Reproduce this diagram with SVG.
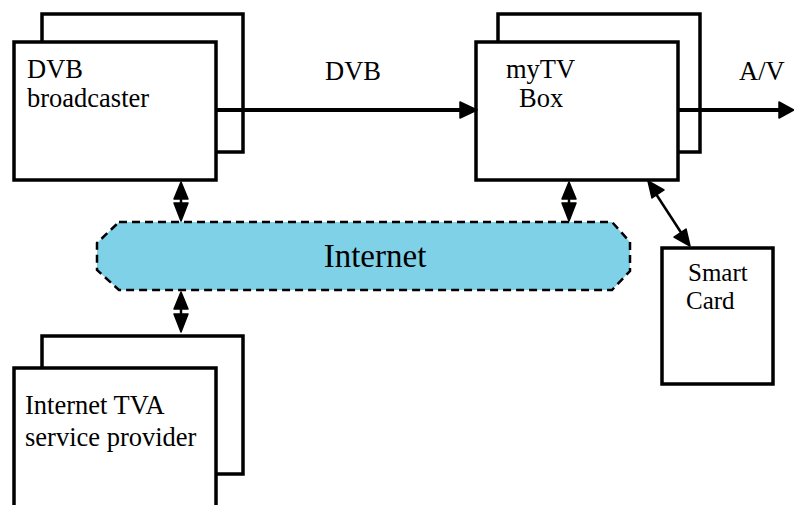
<svg xmlns="http://www.w3.org/2000/svg" width="794" height="505" viewBox="0 0 794 505">
<style>
.box{fill:#fff;stroke:#000;stroke-width:3.5;stroke-linejoin:miter}
.t{font-family:'Liberation Serif','Times New Roman',Times,'DejaVu Serif',serif;font-size:26.5px;fill:#000}
.sc{font-size:25px}
.ln{stroke:#000;stroke-width:4;fill:none}
.thin{stroke:#000;stroke-width:2.5;fill:none}
.hd{fill:#000;stroke:#000;stroke-width:1.5;stroke-linejoin:round}
</style>
<g id="dvb-broadcaster">
<rect class="box" x="42" y="14" width="201" height="138"/>
<rect class="box" x="14" y="42" width="202" height="138"/>
<text class="t" x="27" y="78">DVB</text>
<text class="t" x="27" y="107">broadcaster</text>
</g>
<g id="mytv-box">
<rect class="box" x="498" y="14" width="202" height="138"/>
<rect class="box" x="476" y="42" width="202" height="138"/>
<text class="t" x="506" y="78">myTV</text>
<text class="t" x="519" y="107">Box</text>
</g>
<g id="internet">
<path d="M119,222 L612,222 L630,242 L630,271 L612,290 L119,290 L97,270 L97,243 Z" fill="#7fd1e8" stroke="#000" stroke-width="2.5" stroke-dasharray="8,5"/>
<text class="t" x="375" y="267" text-anchor="middle" style="font-size:33px">Internet</text>
</g>
<g id="smart-card">
<rect class="box" x="662" y="248" width="111" height="136"/>
<text class="t sc" x="688" y="281">Smart</text>
<text class="t sc" x="686" y="309">Card</text>
</g>
<g id="internet-tva-provider">
<rect class="box" x="42" y="336" width="201" height="138"/>
<rect class="box" x="14" y="368" width="202" height="140"/>
<text class="t" x="25" y="414">Internet TVA</text>
<text class="t" x="25" y="446">service provider</text>
</g>
<g id="connectors">
<line class="ln" x1="216" y1="110" x2="462" y2="110"/>
<path class="hd" d="M460,102 L477,110 L460,118 Z"/>
<text class="t" x="325" y="80">DVB</text>
<line class="ln" x1="678" y1="110" x2="780" y2="110"/>
<path class="hd" d="M779,102 L794,110 L779,118 Z"/>
<text class="t" x="739" y="80">A/V</text>
<line class="thin" x1="181" y1="196" x2="181" y2="206"/>
<path class="hd" d="M181,182 L188,199 L174,199 Z"/>
<path class="hd" d="M174,203 L188,203 L181,221 Z"/>
<line class="thin" x1="569" y1="196" x2="569" y2="206"/>
<path class="hd" d="M569,182 L576,199 L562,199 Z"/>
<path class="hd" d="M562,203 L576,203 L569,221 Z"/>
<line class="thin" x1="181" y1="305" x2="181" y2="318"/>
<path class="hd" d="M181,292 L188,309 L174,309 Z"/>
<path class="hd" d="M174,314 L188,314 L181,332 Z"/>
<line class="thin" x1="656" y1="194" x2="682" y2="234"/>
<path class="hd" d="M648,181 L664,190 L652,198 Z"/>
<path class="hd" d="M690,246 L674,237 L686,229 Z"/>
</g>
</svg>
